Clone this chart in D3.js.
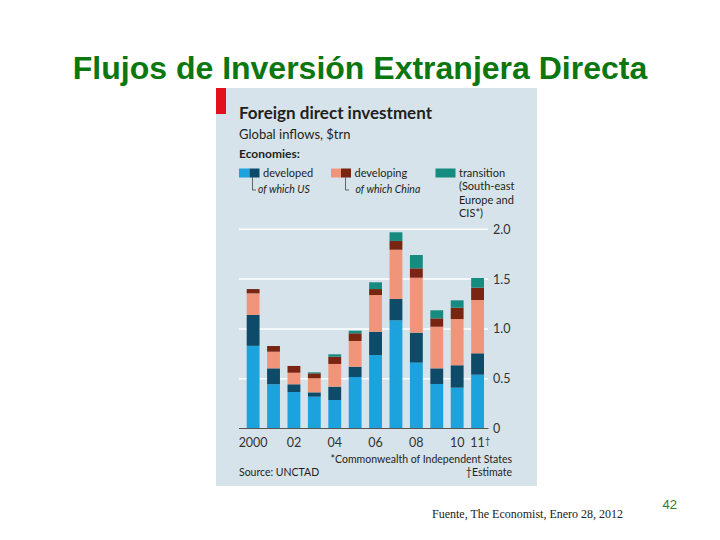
<!DOCTYPE html>
<html><head><meta charset="utf-8">
<script src="https://cdn.jsdelivr.net/npm/d3@7"></script>
<style>body{margin:0;background:#fff}svg{display:block}</style>
</head><body>
<script>
const years = [2000,2001,2002,2003,2004,2005,2006,2007,2008,2009,2010,2011];
const developedExUS = [0.83,0.444,0.366,0.319,0.286,0.517,0.738,1.086,0.661,0.447,0.41,0.54];
const us = [0.31,0.16,0.078,0.044,0.134,0.103,0.234,0.214,0.301,0.157,0.225,0.215];
const developingExChina = [0.217,0.167,0.116,0.141,0.228,0.259,0.368,0.495,0.552,0.418,0.464,0.535];
const china = [0.043,0.057,0.068,0.05,0.073,0.077,0.06,0.088,0.094,0.084,0.114,0.124];
const transition = [0,0,0,0.01,0.024,0.026,0.068,0.087,0.134,0.081,0.074,0.097];
const yTicks = [0,0.5,1.0,1.5,2.0];
const yTickLabels = ["0","0.5","1.0","1.5","2.0"];
const xTickYears = [2000,2002,2004,2006,2008,2010,2011];
const xTickLabels = ["2000","02","04","06","08","10","11"];
const seriesKeys = ["developedExUS","us","developingExChina","china","transition"];
const seriesColors = ["#1ca2dc","#0d4b68","#f1957a","#7a2512","#168b80"];

const W=720,H=540;
const svg = d3.select("body").append("svg").attr("width",W).attr("height",H);
svg.append("rect").attr("width",W).attr("height",H).attr("fill","#fff");

// Slide title
svg.append("text").attr("x",360).attr("y",79).attr("text-anchor","middle")
  .attr("font-family","'Liberation Sans',Arial,sans-serif").attr("font-size",32).attr("font-weight","bold")
  .attr("fill","#0c760f").text("Flujos de Inversión Extranjera Directa");

// Panel
svg.append("rect").attr("x",216).attr("y",88).attr("width",321).attr("height",398).attr("fill","#d7e3ea");
svg.append("rect").attr("x",216).attr("y",88).attr("width",10).attr("height",26).attr("fill","#e3101e");

const F = "Lato,'Open Sans',sans-serif";
const ink = "#231f20";
svg.append("text").attr("x",239).attr("y",119).attr("font-family",F).attr("font-weight","bold")
  .attr("font-size",17).attr("fill",ink).text("Foreign direct investment");
svg.append("text").attr("x",239).attr("y",139).attr("font-family",F)
  .attr("font-size",13).attr("fill",ink).text("Global inflows, $trn");
svg.append("text").attr("x",239).attr("y",158).attr("font-family",F).attr("font-weight","bold")
  .attr("font-size",12).attr("fill",ink).text("Economies:");

// Legend
const lg = svg.append("g").attr("font-family",F).attr("fill",ink);
function sw(x,w,c){lg.append("rect").attr("x",x).attr("y",168.5).attr("width",w).attr("height",9).attr("fill",c);}
sw(239,10.5,seriesColors[0]); sw(249.5,10,seriesColors[1]);
sw(331,10,seriesColors[2]); sw(341,10,seriesColors[3]);
sw(435.5,20,seriesColors[4]);
lg.append("path").attr("d","M252.5,177.5V190H256").attr("stroke","#444").attr("fill","none").attr("stroke-width",0.8);
lg.append("path").attr("d","M345.5,177.5V190H349").attr("stroke","#444").attr("fill","none").attr("stroke-width",0.8);
lg.append("text").attr("x",263).attr("y",177).attr("font-size",11).text("developed");
lg.append("text").attr("x",258).attr("y",193).attr("font-size",10.5).attr("font-style","italic").text("of which US");
lg.append("text").attr("x",354.5).attr("y",177).attr("font-size",11).text("developing");
lg.append("text").attr("x",355.5).attr("y",193).attr("font-size",10.5).attr("font-style","italic").text("of which China");
["transition","(South-east","Europe and","CIS*)"].forEach((t,i)=>{
  lg.append("text").attr("x",459).attr("y",177+i*13.3).attr("font-size",11).text(t);
});

// Scales
const x = d3.scaleBand().domain(years).range([246.7,484]).paddingInner(0.37).paddingOuter(0);
const y = d3.scaleLinear().domain([0,2.0]).range([428.5,229.3]);

// Gridlines
svg.append("g").selectAll("line").data(yTicks.filter(d=>d>0)).join("line")
  .attr("x1",239).attr("x2",488).attr("y1",d=>y(d)).attr("y2",d=>y(d))
  .attr("stroke","#fff").attr("stroke-width",1.5);

// Stacked bars
const rows = years.map((yr,i)=>({year:yr,developedExUS:developedExUS[i],us:us[i],developingExChina:developingExChina[i],china:china[i],transition:transition[i]}));
const stack = d3.stack().keys(seriesKeys)(rows);
svg.append("g").selectAll("g").data(stack).join("g").attr("fill",(d,i)=>seriesColors[i])
  .selectAll("rect").data(d=>d).join("rect")
  .attr("x",d=>x(d.data.year)).attr("width",x.bandwidth())
  .attr("y",d=>y(d[1])).attr("height",d=>Math.max(0,y(d[0])-y(d[1])));

// Zero line
svg.append("line").attr("x1",239).attr("x2",488.5).attr("y1",y(0)).attr("y2",y(0)).attr("stroke","#555").attr("stroke-width",1);

// Y axis labels
svg.append("g").selectAll("text").data(yTicks).join("text")
  .attr("x",493).attr("y",d=>y(d)+4.5).attr("font-family",F).attr("font-size",12.5).attr("fill","#333")
  .text((d,i)=>yTickLabels[i]);

// X axis labels
const xl = svg.append("g").attr("font-family",F).attr("font-size",12.5).attr("fill","#333");
xTickYears.forEach((yr,i)=>{
  xl.append("text").attr("x",x(yr)+x.bandwidth()/2).attr("y",447).attr("text-anchor","middle").text(xTickLabels[i]);
  if(yr===2011){ xl.append("text").attr("x",x(yr)+x.bandwidth()/2+7.5).attr("y",444).attr("font-size",9).text("†"); }
});

// Footnotes
const fn = svg.append("g").attr("font-family",F).attr("font-size",10.5).attr("fill",ink);
fn.append("text").attr("x",512).attr("y",463).attr("text-anchor","end").text("*Commonwealth of Independent States");
fn.append("text").attr("x",512).attr("y",476).attr("text-anchor","end").text("†Estimate");
fn.append("text").attr("x",239).attr("y",476).text("Source: UNCTAD");

// Slide footer
svg.append("text").attr("x",432).attr("y",518).attr("font-family","'Liberation Serif','Times New Roman',serif")
  .attr("font-size",12).attr("fill","#222").text("Fuente, The Economist, Enero 28, 2012");
svg.append("text").attr("x",677).attr("y",509).attr("text-anchor","end").attr("font-family","'Liberation Sans',Arial,sans-serif")
  .attr("font-size",13).attr("fill","#2f7a2f").text("42");
</script>
</body></html>
